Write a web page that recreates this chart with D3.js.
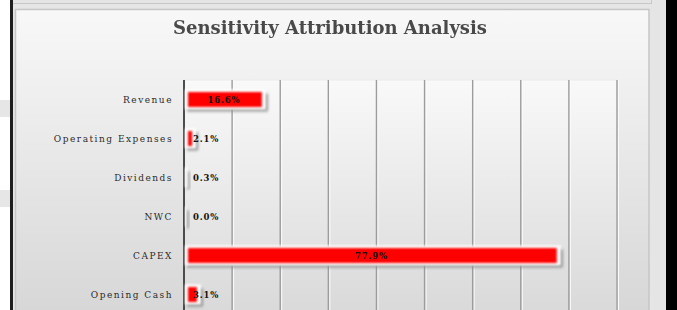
<!DOCTYPE html>
<html>
<head>
<meta charset="utf-8">
<script src="https://cdn.jsdelivr.net/npm/d3@7"></script>
<style>
  html, body { margin: 0; padding: 0; background: #fff; overflow: hidden; }
  svg { display: block; }
</style>
</head>
<body>
<svg width="677" height="310"></svg>
<script>
const categories = ["Revenue", "Operating Expenses", "Dividends", "NWC", "CAPEX", "Opening Cash"];
const shares = [0.166, 0.021, 0.003, 0.000, 0.779, 0.031];
const tickValues = [0, 0.1, 0.2, 0.3, 0.4, 0.5, 0.6, 0.7, 0.8, 0.9];
const chartTitle = "Sensitivity Attribution Analysis";

const svg = d3.select("svg");
const defs = svg.append("defs");

const grad = (id, stops) => {
  let g = defs.append("linearGradient").attr("id", id)
    .attr("x1", 0).attr("y1", 0).attr("x2", 0).attr("y2", 1);
  stops.forEach(([o, c]) => g.append("stop").attr("offset", o).attr("stop-color", c));
};
grad("panelBg", [[0, "#f8f8f8"], [1, "#d5d5d5"]]);
grad("plotBg", [[0, "#f9f9f9"], [1, "#d8d8d8"]]);

const blur = (id, sd) => defs.append("filter").attr("id", id)
  .attr("x", "-50%").attr("y", "-50%").attr("width", "200%").attr("height", "200%")
  .append("feGaussianBlur").attr("stdDeviation", sd);
blur("soft", 0.8);
blur("shade", 1.6);
blur("textSoft", 0.35);

// window frame bits outside the chart
svg.append("rect").attr("x", 0).attr("y", 100).attr("width", 11).attr("height", 17).attr("fill", "#e6e6e6");
svg.append("rect").attr("x", 0).attr("y", 190).attr("width", 11).attr("height", 17).attr("fill", "#e6e6e6");
svg.append("rect").attr("x", 13).attr("y", 0).attr("width", 653).attr("height", 310).attr("fill", "#e5e5e5");
svg.append("line").attr("x1", 13).attr("x2", 651).attr("y1", 3.5).attr("y2", 3.5).attr("stroke", "#c8c8c8");
svg.append("line").attr("x1", 651.5).attr("x2", 651.5).attr("y1", 0).attr("y2", 4).attr("stroke", "#c8c8c8");
svg.append("rect").attr("x", 10).attr("y", 0).attr("width", 3).attr("height", 310).attr("fill", "#1e1e1e");
svg.append("rect").attr("x", 666).attr("y", 0).attr("width", 11).attr("height", 310).attr("fill", "#000");

// chart panel
svg.append("rect").attr("x", 15.5).attr("y", 9.5).attr("width", 633.5).attr("height", 320)
  .attr("fill", "url(#panelBg)").attr("stroke", "#c6c6c6").attr("stroke-width", 1.5);

svg.append("text").attr("x", 330).attr("y", 34).attr("text-anchor", "middle")
  .style("font-family", "'DejaVu Serif', serif").style("font-weight", "bold")
  .style("font-size", "18px").attr("fill", "#4a4a4a")
  .attr("filter", "url(#textSoft)").text(chartTitle);

const x = d3.scaleLinear().domain([0, 0.9]).range([184, 617]);
const y = d3.scaleBand().domain(categories).range([80, 314]).paddingInner(0.59).paddingOuter(0.295);

svg.append("rect").attr("x", x(0)).attr("y", 80).attr("width", x(0.9) - x(0)).attr("height", 240)
  .attr("fill", "url(#plotBg)").attr("stroke", "#ececec");

// embossed gridlines
const grid = svg.append("g").selectAll("g").data(tickValues.slice(1)).enter().append("g");
grid.append("line").attr("x1", d => x(d) + 1.5).attr("x2", d => x(d) + 1.5)
  .attr("y1", 80).attr("y2", 310).attr("stroke", "#fbfbfb").attr("stroke-width", 1);
grid.append("line").attr("x1", d => x(d)).attr("x2", d => x(d))
  .attr("y1", 80).attr("y2", 310).attr("stroke", "#9c9c9c").attr("stroke-width", 1.4);

// category axis
svg.append("line").attr("x1", x(0)).attr("x2", x(0)).attr("y1", 80).attr("y2", 310)
  .attr("stroke", "#3a3a3a").attr("stroke-width", 1.8);

svg.append("g").selectAll("text").data(categories).enter().append("text")
  .attr("x", 173).attr("y", d => y(d) + y.bandwidth() / 2 + 3)
  .attr("text-anchor", "end")
  .style("font-family", "'DejaVu Serif', serif").style("font-size", "9px")
  .style("letter-spacing", "1.5px").attr("fill", "#2a2a2a").text(d => d);

// bars: shadow, white glow, red face
const rows = categories.map((c, i) => ({ c, v: shares[i] }));
const bars = svg.append("g").selectAll("g").data(rows).enter().append("g");
bars.append("rect").attr("x", x(0) + 3).attr("y", d => y(d.c) + 2)
  .attr("width", d => Math.max(2, x(d.v) - x(0) + 1)).attr("height", y.bandwidth() + 2)
  .attr("fill", "#777").attr("opacity", 0.75).attr("filter", "url(#shade)");
bars.append("rect").attr("x", x(0) + 1).attr("y", d => y(d.c) - 2)
  .attr("width", d => x(d.v) - x(0) + 1).attr("height", y.bandwidth() + 4)
  .attr("fill", "#fff").attr("filter", "url(#soft)");
bars.append("rect").attr("x", x(0) + 4).attr("y", d => y(d.c) + 0.5)
  .attr("width", d => Math.max(0, x(d.v) - x(0) - 6)).attr("height", y.bandwidth() - 1)
  .attr("fill", "#ff0000").attr("filter", "url(#soft)");

bars.append("text")
  .attr("x", d => d.v > 0.1 ? (x(0) + x(d.v)) / 2 : x(0) + 9)
  .attr("y", d => y(d.c) + y.bandwidth() / 2 + 3)
  .attr("text-anchor", d => d.v > 0.1 ? "middle" : "start")
  .style("font-family", "'DejaVu Serif', serif").style("font-weight", "bold")
  .style("font-size", "8.5px").style("letter-spacing", "0.8px").attr("fill", "#111")
  .text(d => d3.format(".1%")(d.v));
</script>
</body>
</html>
